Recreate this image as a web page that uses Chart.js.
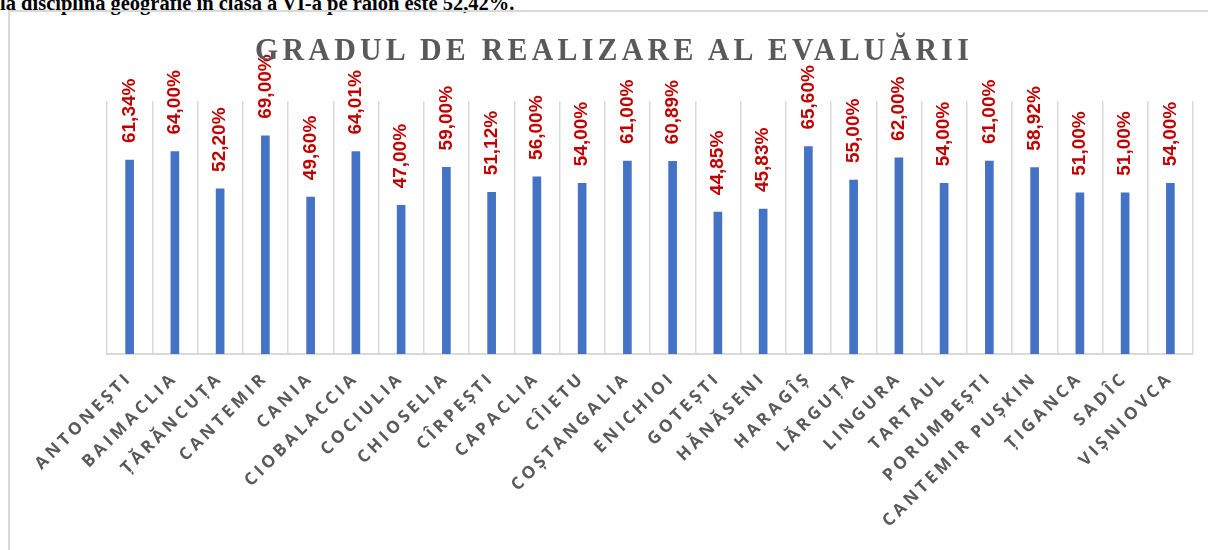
<!DOCTYPE html>
<html>
<head>
<meta charset="utf-8">
<script src="https://cdn.jsdelivr.net/npm/chart.js@4"></script>
<style>
  html, body { margin: 0; padding: 0; background: #fff; overflow: hidden; }
  body { width: 1208px; height: 550px; position: relative; }
  #doc { position: absolute; left: 0; top: -9px; font-family: "Liberation Serif", serif; font-weight: bold; font-size: 20.5px; line-height: 24px; color: #000; white-space: nowrap; }
  #box { position: absolute; left: 8px; top: 10px; width: 1220px; height: 560px; border: 2px solid #d9d9d9; box-sizing: border-box; }
  #title { position: absolute; left: 255px; top: 31px; font-family: "Liberation Serif", serif; font-weight: bold; font-size: 32.5px; line-height: 36px; color: #595959; letter-spacing: 4.6px; white-space: nowrap; transform: scaleX(0.92); transform-origin: 0 0; z-index: 2; }
  #wrap { position: absolute; left: 0; top: 0; width: 1208px; height: 550px; }
</style>
</head>
<body>
<div id="doc">la disciplina geografie în clasa a VI-a pe raion este 52,42%.</div>
<div id="box"></div>
<div id="wrap"><canvas id="c" width="1208" height="550"></canvas></div>
<div id="title">GRADUL DE REALIZARE AL EVALUĂRII</div>
<script>
const categories = ["ANTONEȘTI","BAIMACLIA","ȚĂRĂNCUȚA","CANTEMIR","CANIA","CIOBALACCIA","COCIULIA","CHIOSELIA","CÎRPEȘTI","CAPACLIA","CÎIETU","COȘTANGALIA","ENICHIOI","GOTEȘTI","HĂNĂSENI","HARAGÎȘ","LĂRGUȚA","LINGURA","TARTAUL","PORUMBEȘTI","CANTEMIR PUȘKIN","ȚIGANCA","SADÎC","VIȘNIOVCA"];
const values = [61.34,64.00,52.20,69.00,49.60,64.01,47.00,59.00,51.12,56.00,54.00,61.00,60.89,44.85,45.83,65.60,55.00,62.00,54.00,61.00,58.92,51.00,51.00,54.00];
const yMin = 0, yMax = 80;

function fmt(v){ return v.toFixed(2).replace('.', ',') + '%'; }

const spacingPlugin = {
  id: 'spacing',
  beforeLayout(chart){ chart.ctx.letterSpacing = '3.6px'; },
  beforeDraw(chart){ chart.ctx.letterSpacing = '3.6px'; }
};

const labelPlugin = {
  id: 'valueLabels',
  afterDatasetsDraw(chart){
    const ctx = chart.ctx;
    const meta = chart.getDatasetMeta(0);
    ctx.save();
    ctx.letterSpacing = '0px';
    ctx.fillStyle = '#C00000';
    ctx.font = 'bold 19px "Liberation Sans"';
    ctx.textAlign = 'left';
    ctx.textBaseline = 'middle';
    meta.data.forEach((bar, i) => {
      ctx.save();
      ctx.translate(bar.x, bar.y - 17);
      ctx.rotate(-Math.PI / 2);
      ctx.fillText(fmt(values[i]), 0, 0);
      ctx.restore();
    });
    ctx.restore();
  }
};

new Chart(document.getElementById('c'), {
  type: 'bar',
  data: {
    labels: categories,
    datasets: [{ data: values, backgroundColor: '#4472C4', borderWidth: 0, barThickness: 8 }]
  },
  options: {
    responsive: false,
    animation: false,
    devicePixelRatio: 1,
    layout: { padding: { left: 107, right: 15, top: 101, bottom: 0 } },
    plugins: { legend: { display: false }, title: { display: false }, tooltip: { enabled: false } },
    scales: {
      x: {
        offset: true,
        grid: { display: true, offset: true, color: '#d9d9d9', lineWidth: 1.5, drawTicks: false },
        border: { display: true, color: '#d9d9d9', width: 2 },
        ticks: {
          autoSkip: false, minRotation: 45, maxRotation: 45, padding: 14,
          color: '#595959',
          font: { family: '"Open Sans", sans-serif', weight: 'bold', size: 17 }
        },
        afterFit(s){ s.height = 196; }
      },
      y: { display: false, min: yMin, max: yMax }
    }
  },
  plugins: [spacingPlugin, labelPlugin]
});
</script>
</body>
</html>
